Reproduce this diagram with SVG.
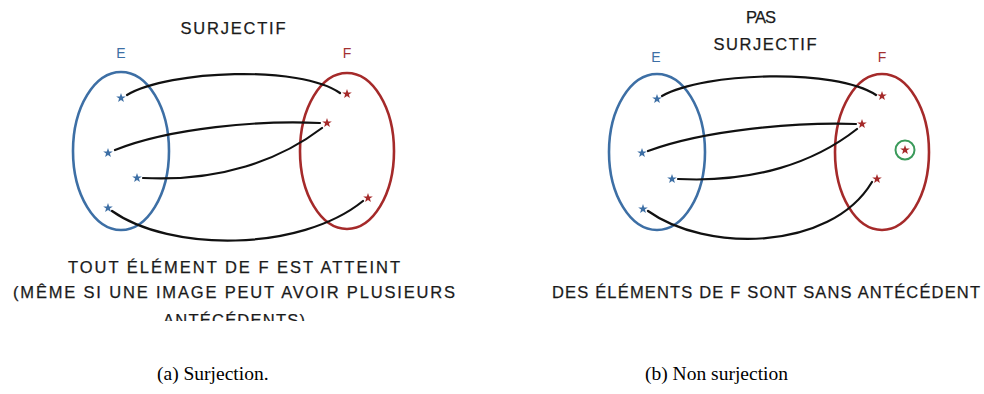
<svg xmlns="http://www.w3.org/2000/svg" width="984" height="394" viewBox="0 0 984 394">
<defs>
<style>
.hand{font-family:"Liberation Sans","DejaVu Sans",sans-serif;font-size:16.5px;fill:#1a1a1a;stroke:#1a1a1a;stroke-width:0.25;text-anchor:middle}
.lblE{font-family:"Liberation Sans",sans-serif;font-size:14px;fill:#3d6fa5;text-anchor:middle}
.lblF{font-family:"Liberation Sans",sans-serif;font-size:14px;fill:#a33030;text-anchor:middle}
.setE{fill:none;stroke:#3d6fa5;stroke-width:2.6}
.setF{fill:none;stroke:#a52a2a;stroke-width:2.6}
.link{fill:none;stroke:#111;stroke-width:2.2;stroke-linecap:round}
.cap{font-family:"Liberation Serif","Times New Roman",serif;font-size:19.5px;fill:#000}
</style>
<path id="star" d="M0,-5 L1.2,-1.6 L4.8,-1.5 L1.9,0.6 L2.9,4.1 L0,2 L-2.9,4.1 L-1.9,0.6 L-4.8,-1.5 L-1.2,-1.6 Z"/>
<clipPath id="cut"><rect x="0" y="0" width="984" height="321"/></clipPath>
</defs>
<g id="panel-a">
<text class="hand" x="233" y="34" textLength="105" lengthAdjust="spacing">SURJECTIF</text>
<g id="setE-a"><ellipse class="setE" cx="121" cy="151" rx="48" ry="79"/><text class="lblE" x="121" y="58">E</text>
<use href="#star" x="121" y="98" fill="#3d6fa5"/><use href="#star" x="108" y="153" fill="#3d6fa5"/><use href="#star" x="137" y="178" fill="#3d6fa5"/><use href="#star" x="108" y="208" fill="#3d6fa5"/></g>
<g id="setF-a"><ellipse class="setF" cx="347" cy="151" rx="47" ry="78"/><text class="lblF" x="347" y="58">F</text>
<use href="#star" x="347" y="94" fill="#a52a2a"/><use href="#star" x="327" y="123" fill="#a52a2a"/><use href="#star" x="368" y="198" fill="#a52a2a"/></g>
<g id="links-a">
<path class="link" d="M127,95 C170,70 300,65 340,93"/>
<path class="link" d="M115,150 C170,128 260,120 320,123"/>
<path class="link" d="M143,178 C220,182 280,160 322,128"/>
<path class="link" d="M112,211 C170,252 300,252 363,201"/>
</g>
<g id="text-a" clip-path="url(#cut)">
<text class="hand" x="234" y="273" textLength="332" lengthAdjust="spacing">TOUT ÉLÉMENT DE F EST ATTEINT</text>
<text class="hand" x="234" y="298" textLength="442" lengthAdjust="spacing">(MÊME SI UNE IMAGE PEUT AVOIR PLUSIEURS</text>
<text class="hand" x="234" y="326" textLength="142" lengthAdjust="spacing">ANTÉCÉDENTS)</text>
</g>
</g>
<g id="panel-b">
<text class="hand" x="761" y="23" textLength="30" lengthAdjust="spacing">PAS</text>
<text class="hand" x="765" y="50" textLength="103" lengthAdjust="spacing">SURJECTIF</text>
<g id="setE-b"><ellipse class="setE" cx="657" cy="152" rx="48" ry="78"/><text class="lblE" x="656" y="62">E</text>
<use href="#star" x="657" y="99" fill="#3d6fa5"/><use href="#star" x="642" y="153" fill="#3d6fa5"/><use href="#star" x="672" y="179" fill="#3d6fa5"/><use href="#star" x="643" y="209" fill="#3d6fa5"/></g>
<g id="setF-b"><ellipse class="setF" cx="882" cy="152" rx="47" ry="78"/><text class="lblF" x="882" y="62">F</text>
<use href="#star" x="882" y="96" fill="#a52a2a"/><use href="#star" x="862" y="124" fill="#a52a2a"/><use href="#star" x="905" y="150" fill="#a52a2a"/><use href="#star" x="877" y="179" fill="#a52a2a"/>
<circle cx="905" cy="150" r="9.5" fill="none" stroke="#3a9a5a" stroke-width="2"/></g>
<g id="links-b">
<path class="link" d="M662,96 C705,72 835,68 876,95"/>
<path class="link" d="M648,151 C705,130 795,122 856,124"/>
<path class="link" d="M678,179 C755,183 815,162 857,129"/>
<path class="link" d="M648,211 C705,252 830,252 872,182"/>
</g>
<text class="hand" x="766" y="298" textLength="428" lengthAdjust="spacing">DES ÉLÉMENTS DE F SONT SANS ANTÉCÉDENT</text>
</g>
<text class="cap" x="157" y="380">(a)  Surjection.</text>
<text class="cap" x="645" y="380">(b)  Non surjection</text>
</svg>
